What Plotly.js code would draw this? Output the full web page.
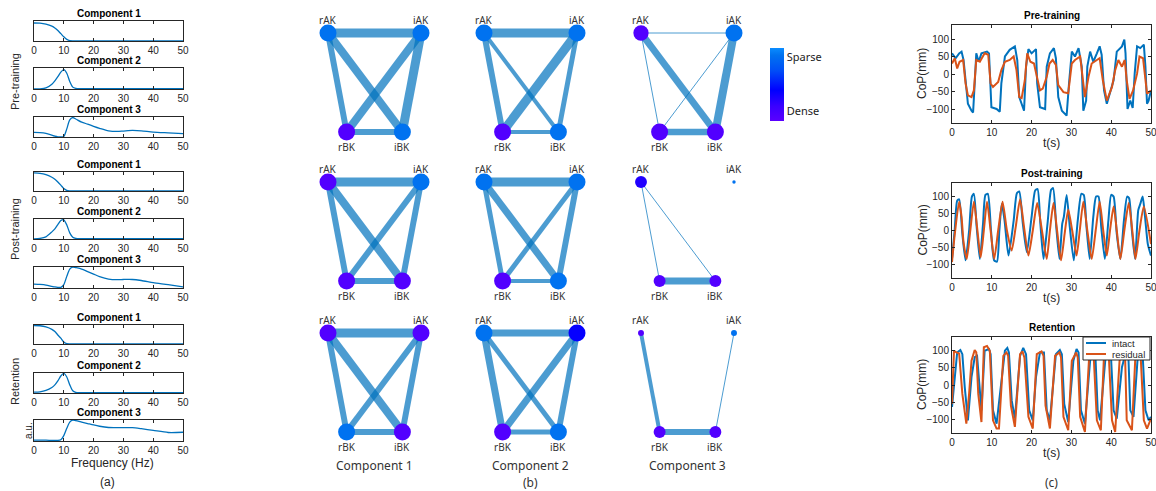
<!DOCTYPE html>
<html><head><meta charset="utf-8">
<script src="https://cdn.plot.ly/plotly-3.0.1.min.js"></script>
<style>html,body{margin:0;padding:0;background:#fff}#chart{width:1156px;height:491px}</style>
</head><body><div id="chart"></div>
<script>
// ---------------- DATA ----------------
const sessions = ['Pre-training', 'Post-training', 'Retention'];
const components = ['Component 1', 'Component 2', 'Component 3'];
const freqTicks = [0, 10, 20, 30, 40, 50];
const copTicks = [-100, -50, 0, 50, 100];

// (a) spectral profiles (a.u.)
const freqHz = [0,2,4,6,7,8,9,10,11,12,13,14,16,18,20,22,25,28,30,33,36,40,45,50];
const specPreC1  = [0.90,0.89,0.84,0.74,0.65,0.52,0.36,0.20,0.07,0.01,0,0,0,0,0,0,0,0,0,0,0,0,0,0];
const specPreC2  = [0,0,0.04,0.22,0.38,0.58,0.80,0.92,0.75,0.35,0.08,0.02,0.01,0.01,0.01,0.01,0.01,0.01,0.01,0.01,0.01,0.01,0.01,0.01];
const specPreC3  = [0.22,0.21,0.17,0.08,0.03,0.00,0.00,0.02,0.40,0.85,0.97,0.90,0.74,0.64,0.53,0.43,0.30,0.27,0.29,0.32,0.30,0.24,0.20,0.16];
const specPostC1 = [0.95,0.93,0.86,0.72,0.62,0.47,0.30,0.12,0.02,0,0,0,0,0,0,0,0,0,0,0,0,0,0,0];
const specPostC2 = [0,0.02,0.10,0.35,0.50,0.72,0.92,0.96,0.70,0.30,0.08,0.02,0.01,0.01,0.01,0.01,0.01,0.01,0.01,0.01,0.01,0.01,0.01,0.01];
const specPostC3 = [0.18,0.16,0.13,0.07,0.04,0.02,0.02,0.15,0.55,0.90,1.00,0.97,0.90,0.78,0.66,0.54,0.42,0.39,0.40,0.40,0.35,0.25,0.15,0.04];
const specRetC1  = [0.97,0.96,0.90,0.77,0.65,0.47,0.30,0.10,0.01,0,0,0,0,0,0,0,0,0,0,0,0,0,0,0];
const specRetC2  = [0.03,0.05,0.12,0.27,0.40,0.60,0.85,0.98,0.80,0.40,0.10,0.02,0.01,0.01,0.01,0.01,0.01,0.01,0.01,0.01,0.01,0.01,0.01,0.01];
const specRetC3  = [0.03,0.03,0.03,0.02,0.02,0.02,0.05,0.25,0.60,0.90,1.00,0.97,0.90,0.83,0.76,0.70,0.64,0.63,0.63,0.63,0.58,0.50,0.40,0.41];

// (b) networks
const nodeNames = ['rAK', 'iAK', 'rBK', 'iBK'];
const nodeGraphX = [0, 1, 0.2, 0.8];   // graph layout coordinates
const nodeGraphY = [1, 1, 0, 0];
const edgeList = [[0,1],[0,2],[0,3],[1,2],[1,3],[2,3]];
const edgeWeightPre  = [[0.9,0.6,0.8,0.8,0.9,0.6],[0.9,0.6,0.4,0.9,0.5,0.4],[0.1,0.1,0.7,0.1,0.8,0.65]];
const edgeWeightPost = [[0.9,0.6,0.8,0.6,0.6,0.6],[0.9,0.5,0.7,0.5,0.6,0.4],[0,0.1,0.1,0,0,0.7]];
const edgeWeightRet  = [[0.9,0.6,0.8,0.6,0.6,0.6],[0.7,0.7,0.5,0.7,0.6,0.5],[0,0.4,0,0,0.1,0.6]];
// node sparsity (1 = sparse, 0 = dense)
const nodeSparsityPre  = [[0.9,0.9,0.05,0.9],[0.9,0.9,0.05,0.9],[0.05,0.9,0.05,0.05]];
const nodeSparsityPost = [[0.05,0.9,0.05,0.05],[0.9,0.9,0.05,0.9],[0.3,0.9,0.05,0.05]];
const nodeSparsityRet  = [[0.05,0.05,0.9,0.05],[0.9,0.4,0.05,0.9],[0.05,0.9,0.05,0.05]];
// node strength (relative)
const nodeStrengthPre  = [[1,1,1,1],[1,1,1,1],[0.9,1,1,1]];
const nodeStrengthPost = [[1,1,1,1],[1,1,1,1],[0.7,0.2,0.7,0.7]];
const nodeStrengthRet  = [[1,1,1,1],[1,1,1,1],[0.35,0.35,0.7,0.7]];
const sparsityTicks = [0.88, 0.14];
const sparsityLabels = ['Sparse', 'Dense'];

// (c) CoP time series
const preIntactT = [0,0.9,1.8,2.4,2.9,3.6,4.0,4.9,5.3,5.7,6.1,6.7,7.4,8.8,9.3,9.9,11.2,12.0,12.4,13.3,14.5,15.8,16.4,16.9,18.1,18.6,19.2,20.0,21.1,21.4,22.1,23.4,23.8,24.6,25.6,26.1,26.7,27.6,28.8,29.4,30.1,30.9,31.8,32.6,33.0,33.7,34.0,34.7,35.5,36.4,37.1,37.6,38.2,38.9,39.6,40.6,41.4,42.7,43.3,43.6,44.1,44.8,45.4,45.9,46.5,47.3,48.2,48.6,49.0,49.4,50];
const preIntactV = [59,45,59,64,40,-56,-85,-105,-110,-27,59,35,59,64,59,-95,-100,-108,-27,50,69,79,40,-66,-105,21,71,59,71,-27,-95,-100,21,59,74,45,-66,-105,-119,-27,64,50,74,21,-105,-76,21,64,35,59,79,55,-47,-85,-56,-18,64,79,98,59,-100,-76,-97,1,79,74,84,21,-85,-76,-47];
const preResidT = [0,0.7,1.3,1.9,2.8,3.4,4.0,4.9,5.5,6.1,7.0,8.2,9.1,9.7,10.3,11.6,12.4,13.3,14.5,15.5,16.2,16.9,17.5,18.3,18.9,19.7,20.6,21.3,22.1,22.8,23.8,24.5,25.3,26.1,26.7,28.0,29.2,30.1,30.9,32.2,33.0,33.4,34.3,35.1,36.4,37.1,37.9,38.9,40.2,41.0,41.8,42.7,43.4,43.9,44.6,45.5,46.5,47.1,48.0,49.0,50];
const preResidV = [30,45,16,35,40,-27,-61,-66,-47,40,35,59,55,-27,-37,-23,11,35,40,50,11,-66,-69,-18,59,35,30,-8,-47,-42,-8,30,40,26,-32,-52,-55,30,40,50,-27,-66,-8,30,40,45,-18,-76,-37,11,40,21,40,-18,-71,-47,1,50,45,-56,-47];

const postIntactT = [0,0.7,1.3,1.8,2.6,3.4,4.3,5.0,5.5,6.2,7.0,7.8,8.4,9.0,9.8,10.6,11.3,11.9,12.5,13.2,14.2,15.5,16.3,16.9,17.8,18.8,20.0,20.9,21.5,22.2,23.0,24.0,24.9,25.4,26.2,27.0,27.7,28.1,28.8,29.6,30.6,31.6,32.5,33.1,33.8,34.6,35.5,36.2,36.8,37.5,38.4,39.3,40.0,40.6,41.4,42.3,43.2,44.0,44.5,45.2,46.0,46.8,47.3,47.9,48.5,49.2,50];
const postIntactV = [-84,5,88,92,-10,-88,0,100,108,10,-84,20,105,108,0,-88,-92,0,78,30,-74,30,110,115,20,-64,40,118,122,20,-84,20,120,125,10,-84,20,40,105,10,-88,30,108,105,10,-84,40,100,100,10,-84,30,105,100,-10,-84,30,100,95,0,-84,60,78,100,40,-40,-74];
const postResidT = [0,0.8,1.8,2.4,2.9,3.7,4.6,5.5,6.3,7.2,8.0,8.8,9.7,10.6,11.6,12.7,13.8,15.0,16.0,17.1,18.1,19.2,20.3,21.4,22.6,23.8,24.6,25.5,26.4,27.4,28.3,29.2,30.2,31.3,32.1,33.0,34.0,35.1,36.1,37.1,38.0,38.9,39.7,40.6,41.4,42.3,43.3,44.4,45.3,46.1,47.1,48.2,50];
const postResidV = [-93,0,85,40,-35,-84,0,85,10,-79,0,85,0,-84,0,85,0,-59,10,92,10,-74,0,81,0,-84,0,81,0,-88,-10,61,0,-74,0,85,0,-84,0,85,0,-74,0,71,0,-84,0,81,0,-84,0,71,-40];

const retIntactT = [0,1.3,2.1,2.6,3.2,4.0,4.9,5.7,6.3,7.0,7.4,8.2,9.3,9.7,10.3,11.2,12.0,13.3,13.9,14.3,15.0,15.8,17.1,17.9,18.6,19.4,20.3,21.1,22.1,23.1,23.8,24.6,26.1,27.1,27.6,28.2,29.2,30.5,31.3,31.8,32.4,33.4,34.7,35.5,36.0,36.6,37.2,38.5,39.3,39.9,40.6,41.4,42.7,43.9,44.3,44.8,45.6,46.6,47.3,47.9,48.6,49.4,50];
const retIntactV = [-64,95,102,90,-6,-103,23,81,85,-26,-74,100,105,90,-74,-113,-26,100,108,95,-45,-98,85,108,90,-74,-103,23,95,95,-74,-103,90,102,90,-55,-108,71,105,95,-74,-113,71,100,95,-74,-103,71,109,95,-74,-98,52,105,90,-74,-93,71,105,90,-74,-103,-93];
const retResidT = [0,0.5,1.1,1.8,2.6,3.6,4.3,4.9,5.7,6.1,6.6,7.4,8.0,8.8,9.5,10.3,11.2,11.8,12.9,13.7,14.1,14.8,15.8,17.1,17.7,18.2,19.2,20.3,21.3,22.5,23.0,23.5,24.6,25.9,27.0,27.4,28.0,29.2,30.1,31.2,31.6,32.2,33.4,34.5,35.1,35.6,36.4,37.4,38.2,38.9,39.4,40.2,41.0,42.1,43.1,43.5,43.9,45.2,46.1,46.9,47.4,48.2,49.0,50];
const retResidV = [-55,100,95,92,-26,-113,-26,71,102,95,-26,-108,110,114,100,-103,-127,-127,85,95,85,-60,-122,90,98,80,-93,-127,90,98,85,-60,-127,85,95,80,-93,-132,71,95,80,-93,-137,90,102,85,-103,-132,90,102,85,-103,-137,71,95,80,-103,-132,90,102,85,-103,-127,-98];
const seriesNames = ['intact', 'residual'];

// ---------------- STYLE / LAYOUT ----------------
const W = 1156, H = 491;
const ARIAL = 'Liberation Sans, Arial, sans-serif';
const UI = 'Noto Sans, Open Sans, sans-serif';
const TXT = '#262626';
const BLUE = '#0072BD', ORANGE = '#D95319';
const traces = [];
const layout = {
  width: W, height: H, autosize: false,
  margin: {l: 0, r: 0, t: 0, b: 0},
  paper_bgcolor: '#fff', plot_bgcolor: 'rgba(0,0,0,0)',
  showlegend: false, annotations: [], shapes: [],
  font: {family: ARIAL, color: TXT},
  coloraxis: {
    cmin: 0, cmax: 1,
    colorscale: [[0,'#5a00ff'],[0.2,'#3a00ff'],[0.42,'#0000ff'],[0.7,'#0050f6'],[0.9,'#0072f0'],[1,'#0a8cff']],
    colorbar: {
      x: 770 / W, xanchor: 'left', y: 1 - 48 / H, yanchor: 'top',
      lenmode: 'pixels', len: 73, thicknessmode: 'pixels', thickness: 14,
      xpad: 0, ypad: 0, outlinewidth: 0, ticks: '',
      tickvals: sparsityTicks, ticktext: sparsityLabels,
      tickfont: {family: UI, size: 11, color: '#222'}
    }
  }
};
const ax = n => (n === 1 ? '' : String(n));
const fy = px => 1 - px / H;
const fx = px => px / W;
function addAnn(o) { layout.annotations.push(Object.assign({showarrow: false, xanchor: 'center', yanchor: 'middle'}, o)); }

// ---- (a) spectra ----
const specs = [[specPreC1, specPreC2, specPreC3], [specPostC1, specPostC2, specPostC3], [specRetC1, specRetC2, specRetC3]];
const aTop = [[21, 68, 117], [172, 219, 267], [325, 373, 420]];
const aBot = [[41, 89, 137], [191, 239, 288], [344, 393, 441]];
for (let r = 0; r < 3; r++) for (let c = 0; c < 3; c++) {
  const n = r * 3 + c + 1;
  traces.push({x: freqHz, y: specs[r][c], type: 'scatter', mode: 'lines',
    line: {color: BLUE, width: 1.3, shape: 'spline', smoothing: 0.7},
    xaxis: 'x' + ax(n), yaxis: 'y' + ax(n), showlegend: false, hoverinfo: 'skip'});
  layout['xaxis' + ax(n)] = {domain: [fx(34), fx(183)], anchor: 'y' + ax(n), range: [0, 50],
    tickvals: freqTicks, ticks: 'inside', ticklen: 3, tickcolor: TXT, showline: true, mirror: 'ticks',
    linecolor: TXT, linewidth: 1, showgrid: false, zeroline: false, ticklabeloverflow: 'allow',
    tickfont: {family: ARIAL, size: 10, color: TXT}, fixedrange: true};
  layout['yaxis' + ax(n)] = {domain: [fy(aBot[r][c]), fy(aTop[r][c])], anchor: 'x' + ax(n), range: [-0.01, 1.0],
    showticklabels: false, ticks: '', showline: true, mirror: true, linecolor: TXT, linewidth: 1,
    showgrid: false, zeroline: false, fixedrange: true};
  addAnn({xref: 'x' + ax(n) + ' domain', yref: 'y' + ax(n) + ' domain', x: 0.5, y: 1, yanchor: 'bottom', yshift: 0,
    text: '<b>' + components[c] + '</b>', font: {family: ARIAL, size: 10, color: '#000'}});
}
const rowLabelY = [82, 229, 382];
sessions.forEach((s, r) => addAnn({xref: 'paper', yref: 'paper', x: fx(15), y: fy(rowLabelY[r]), textangle: -90,
  text: s, font: {family: ARIAL, size: 11, color: TXT}}));
addAnn({xref: 'paper', yref: 'paper', x: fx(28), y: fy(431), textangle: -90, text: 'a.u.', font: {family: ARIAL, size: 10, color: TXT}});
addAnn({xref: 'paper', yref: 'paper', x: fx(112), y: fy(463), text: 'Frequency (Hz)', font: {family: ARIAL, size: 12, color: TXT}});
addAnn({xref: 'paper', yref: 'paper', x: fx(107), y: fy(482), text: '(a)', font: {family: ARIAL, size: 12, color: TXT}});

// ---- (b) networks ----
const edgeW = [edgeWeightPre, edgeWeightPost, edgeWeightRet];
const nodeS = [nodeSparsityPre, nodeSparsityPost, nodeSparsityRet];
const nodeK = [nodeStrengthPre, nodeStrengthPost, nodeStrengthRet];
const colX0 = [328, 484, 641], rowY0 = [33, 182, 333], ux = 93, uy = 99;
for (let r = 0; r < 3; r++) for (let c = 0; c < 3; c++) {
  const n = 10 + r * 3 + c;
  const xa = 'x' + n, ya = 'y' + n;
  layout['xaxis' + n] = {domain: [fx(colX0[c] - 0.3 * ux), fx(colX0[c] + 1.3 * ux)], anchor: ya, range: [-0.3, 1.3], visible: false, fixedrange: true};
  layout['yaxis' + n] = {domain: [fy(rowY0[r] + 1.25 * uy), fy(rowY0[r] - 0.25 * uy)], anchor: xa, range: [-0.25, 1.25], visible: false, fixedrange: true};
  edgeList.forEach((e, k) => {
    const w = edgeW[r][c][k];
    if (w <= 0) return;
    traces.push({x: [nodeGraphX[e[0]], nodeGraphX[e[1]]], y: [nodeGraphY[e[0]], nodeGraphY[e[1]]],
      type: 'scatter', mode: 'lines', line: {color: 'rgba(0,114,189,0.7)', width: w * 10},
      xaxis: xa, yaxis: ya, showlegend: false, hoverinfo: 'skip'});
  });
  traces.push({x: nodeGraphX, y: nodeGraphY, type: 'scatter', mode: 'markers',
    marker: {size: nodeK[r][c].map(v => v * 17), color: nodeS[r][c], coloraxis: 'coloraxis', line: {width: 0}, opacity: 1},
    xaxis: xa, yaxis: ya, showlegend: false, hoverinfo: 'skip'});
  nodeNames.forEach((nm, i) => addAnn({xref: xa, yref: ya, x: nodeGraphX[i], y: nodeGraphY[i],
    yshift: nodeGraphY[i] > 0.5 ? 13 : -15, text: nm, font: {family: UI, size: 10, color: '#333'}}));
  if (r === 2) addAnn({xref: xa + ' domain', yref: 'paper', x: 0.5, y: fy(465), text: components[c], font: {family: UI, size: 12, color: '#333'}});
}
addAnn({xref: 'paper', yref: 'paper', x: fx(530), y: fy(482), text: '(b)', font: {family: UI, size: 12, color: '#333'}});

// ---- (c) time series ----
const tsData = [[preIntactT, preIntactV, preResidT, preResidV], [postIntactT, postIntactV, postResidT, postResidV], [retIntactT, retIntactV, retResidT, retResidV]];
const cTop = [25, 183, 337], cBot = [123, 278, 433], cXlab = [143, 298, 453];
const seriesColors = [BLUE, ORANGE];
for (let r = 0; r < 3; r++) {
  const n = 19 + r;
  const d = tsData[r];
  for (let s = 0; s < 2; s++) {
    traces.push({x: d[2 * s], y: d[2 * s + 1], type: 'scatter', mode: 'lines', name: seriesNames[s],
      line: {color: seriesColors[s], width: 2, shape: r === 1 ? 'spline' : 'linear', smoothing: 0.6},
      xaxis: 'x' + n, yaxis: 'y' + n, showlegend: false, hoverinfo: 'skip'});
  }
  layout['xaxis' + n] = {domain: [fx(952), fx(1151)], anchor: 'y' + n, range: [0, 50], tickvals: freqTicks,
    ticks: 'inside', ticklen: 3, tickcolor: TXT, showline: true, mirror: 'ticks', linecolor: TXT, linewidth: 1,
    showgrid: false, zeroline: false, ticklabeloverflow: 'allow', tickfont: {family: ARIAL, size: 10, color: TXT}, fixedrange: true};
  layout['yaxis' + n] = {domain: [fy(cBot[r]), fy(cTop[r])], anchor: 'x' + n, range: [-140, 140], tickvals: copTicks,
    ticks: 'inside', ticklen: 3, tickcolor: TXT, showline: true, mirror: 'ticks', linecolor: TXT, linewidth: 1,
    showgrid: false, zeroline: false, ticklabeloverflow: 'allow', tickfont: {family: ARIAL, size: 10, color: TXT}, fixedrange: true};
  addAnn({xref: 'x' + n + ' domain', yref: 'y' + n + ' domain', x: 0.5, y: 1, yanchor: 'bottom', yshift: 2,
    text: '<b>' + sessions[r] + '</b>', font: {family: ARIAL, size: 10, color: '#000'}});
  addAnn({xref: 'paper', yref: 'paper', x: fx(1051), y: fy(cXlab[r]), text: 't(s)', font: {family: ARIAL, size: 12, color: TXT}});
  addAnn({xref: 'paper', yref: 'paper', x: fx(922), y: fy((cTop[r] + cBot[r]) / 2), textangle: -90, text: 'CoP(mm)', font: {family: ARIAL, size: 12, color: TXT}});
}
addAnn({xref: 'paper', yref: 'paper', x: fx(1051), y: fy(482), text: '(c)', font: {family: UI, size: 12, color: '#333'}});

// compact legend box in the Retention panel
const lg = {x0: 1083, x1: 1150, y0: 337, y1: 360};
layout.shapes.push({type: 'rect', xref: 'paper', yref: 'paper', x0: fx(lg.x0), x1: fx(lg.x1), y0: fy(lg.y1), y1: fy(lg.y0),
  fillcolor: '#fff', line: {color: TXT, width: 1}, layer: 'above'});
seriesNames.forEach((nm, s) => {
  const yy = fy(343 + s * 11);
  layout.shapes.push({type: 'line', xref: 'paper', yref: 'paper', x0: fx(1086), x1: fx(1106), y0: yy, y1: yy,
    line: {color: seriesColors[s], width: 2}, layer: 'above'});
  addAnn({xref: 'paper', yref: 'paper', x: fx(1110), y: yy, xanchor: 'left', text: nm, font: {family: ARIAL, size: 9.5, color: TXT}});
});

Plotly.newPlot('chart', traces, layout, {staticPlot: true, displayModeBar: false});
</script></body></html>
